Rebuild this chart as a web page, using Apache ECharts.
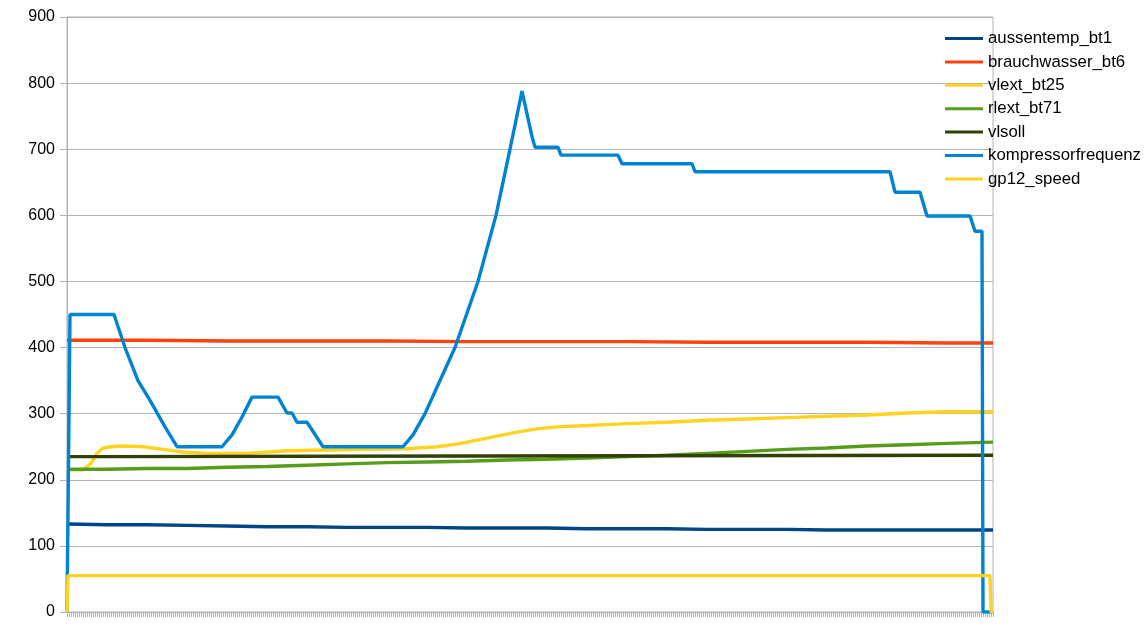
<!DOCTYPE html>
<html>
<head>
<meta charset="utf-8">
<script src="https://cdn.jsdelivr.net/npm/echarts@6/dist/echarts.min.js"></script>
<style>
html,body{margin:0;padding:0;background:#fff;}
#chart{width:1147px;height:640px;}
</style>
</head>
<body>
<div id="chart"></div>
<script>
// sample index (x) and values (y) per series
const seriesNames = ['aussentemp_bt1','brauchwasser_bt6','vlext_bt25','rlext_bt71','vlsoll','kompressorfrequenz','gp12_speed'];
const yTicks = [0,100,200,300,400,500,600,700,800,900];
const sampleCount = 463;

const aussenS = [0,20,40,60,80,100,120,140,160,180,200,220,240,260,280,300,320,340,360,380,400,420,440,463];
const aussenV = [133,132,132,131,130,129,129,128,128,128,127,127,127,126,126,126,125,125,125,124,124,124,124,124];

const brauchS = [0,40,80,120,160,200,240,280,320,360,400,440,463];
const brauchV = [411,411,410,410,410,409,409,409,408,408,408,407,407];

const vlextS = [0,8,12,15,18,22,28,38,48,58,70,90,110,130,150,170,185,195,205,215,225,235,245,260,280,300,320,340,360,380,400,420,440,463];
const vlextV = [215,215,225,240,248,250,251,250,246,242,240,240,244,245,246,247,250,254,260,266,272,277,280,282,285,287,290,292,294,296,298,301,303,303];

const rlextS = [0,20,40,60,80,100,120,140,160,180,200,220,240,260,280,300,320,340,360,380,400,420,440,463];
const rlextV = [216,216,217,217,219,220,222,224,226,227,228,230,231,233,235,237,240,243,246,248,251,253,255,257];

const vlsollS = [0,17,18,200,463];
const vlsollV = [235,235,236,236,237];

const kompS = [0,1.5,23.5,29,35.5,41.5,49,55,77.5,82.5,87.5,92.5,105.5,110,112.5,115,120,128,168,173,179,194,205.5,214.5,221.5,227.5,232.5,234,245.5,247,275.5,277.5,312.5,314,411.5,414,426.5,430,451.5,454,457.5,458,463];
const kompV = [0,450,450,400,350,320,280,250,250,268,295,325,325,301,301,287,287,250,250,268,300,400,500,600,700,788,719,703,703,691,691,678,678,666,666,635,635,599,599,576,576,0,0];

const gp12S = [0,0.5,461.5,462,463];
const gp12V = [0,55,55,0,0];

function pairs(s, v){ return s.map((x,i)=>[x, v[i]]); }

const colors = ['#004586','#ff420e','#ffd320','#579d1c','#314004','#0084d1','#ffd320'];
const dataSets = [pairs(aussenS,aussenV),pairs(brauchS,brauchV),pairs(vlextS,vlextV),pairs(rlextS,rlextV),pairs(vlsollS,vlsollV),pairs(kompS,kompV),pairs(gp12S,gp12V)];

const chart = echarts.init(document.getElementById('chart'));
chart.setOption({
  animation:false,
  backgroundColor:'#fff',
  color: colors,
  grid:{left:67,right:154,top:17,bottom:28,show:true,borderColor:'#b3b3b3',borderWidth:1,backgroundColor:'transparent'},
  legend:{
    orient:'vertical', left:940, top:25,
    icon:'rect', itemWidth:38, itemHeight:3, itemGap:6.4,
    textStyle:{fontFamily:'Liberation Sans', fontSize:16.8, color:'#000', lineHeight:17},
    data: seriesNames
  },
  xAxis:{
    type:'value', min:0, max:sampleCount, interval:1,
    axisLabel:{show:false},
    axisLine:{show:true,lineStyle:{color:'#b3b3b3'}},
    axisTick:{show:true,length:5,lineStyle:{color:'#b3b3b3'}},
    splitLine:{show:false}
  },
  yAxis:{
    type:'value', min:yTicks[0], max:yTicks[yTicks.length-1], interval:100,
    axisLine:{show:true,lineStyle:{color:'#b3b3b3'}},
    axisTick:{show:true,length:7,lineStyle:{color:'#b3b3b3'}},
    axisLabel:{margin:12,fontFamily:'Liberation Sans',fontSize:16,color:'#000'},
    splitLine:{show:true,lineStyle:{color:'#b3b3b3',width:1}}
  },
  series: seriesNames.map((n,i)=>({
    name:n, type:'line', data:dataSets[i], showSymbol:false, symbol:'none',
    lineStyle:{width:3.4,color:colors[i]}, itemStyle:{color:colors[i]},
    z: 2+i
  }))
});
</script>
</body>
</html>
